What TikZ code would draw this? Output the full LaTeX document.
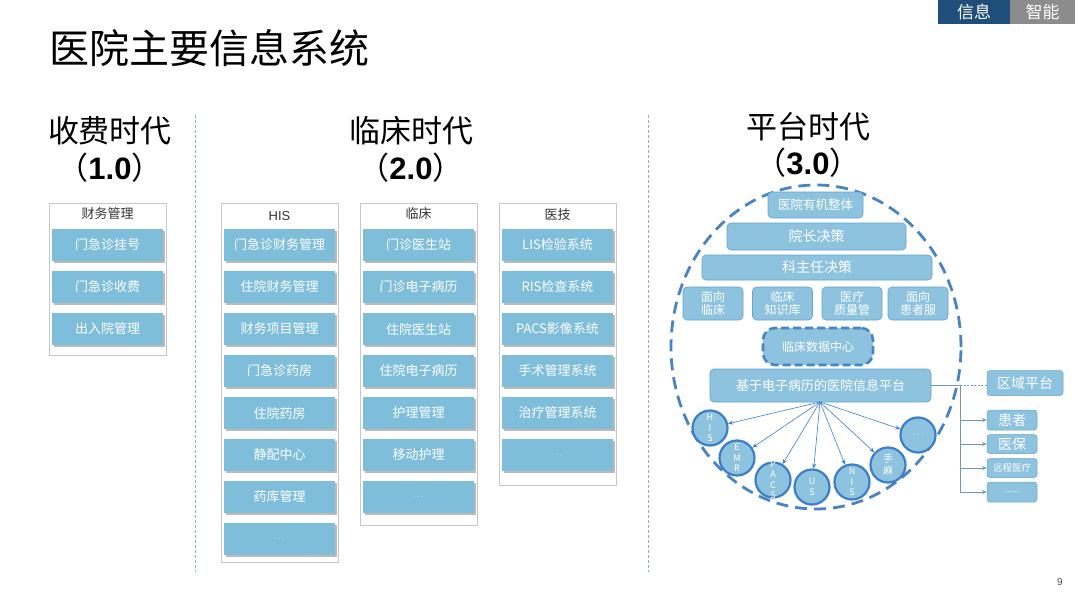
\documentclass[tikz,border=0pt]{standalone}
\usepackage{fontspec}
\setmainfont{Noto Sans CJK SC}
\newfontfamily\lat{Liberation Sans}
\usetikzlibrary{shadows,arrows.meta,calc}
\definecolor{itemblue}{RGB}{127,190,219}
\definecolor{pblue}{RGB}{141,195,222}
\definecolor{pborder}{RGB}{104,162,206}
\definecolor{cborder}{RGB}{62,126,196}
\definecolor{dashblue}{RGB}{72,132,192}
\definecolor{tabblue}{RGB}{30,78,121}
\definecolor{tabgray}{RGB}{140,140,140}
\definecolor{sepcol}{RGB}{150,175,200}
\definecolor{linkcol}{RGB}{110,150,195}
\newcommand{\fs}[1]{\fontsize{#1}{#1}\selectfont}
\newcommand{\dd}{{\fs{9}$\cdots$}}
\tikzset{
  item/.style={fill=itemblue, text=white, minimum width=111pt, minimum height=32pt, inner sep=0pt,
    font=\fs{13}, drop shadow={shadow xshift=1.5pt, shadow yshift=-2pt, opacity=0.45, fill=black!60}},
  colbox/.style={draw=black!22, line width=0.8pt, fill=white},
  colhead/.style={font=\fs{13}, text=black!80, inner sep=0pt},
  era/.style={font=\fs{31}, inner sep=0pt},
  pbox/.style={rounded corners=4pt, fill=pblue, draw=pborder, line width=0.6pt, text=white, inner sep=0pt},
  qbox/.style={pbox, minimum width=60pt, minimum height=33pt, font=\fontsize{12}{13.5}\selectfont, align=center},
  circ/.style={circle, minimum size=35pt, inner sep=0pt, fill=pblue, draw=cborder, line width=2.2pt},
  ctext/.style={font=\fontsize{9}{10.5}\selectfont, text=white, align=center, inner sep=0pt},
  fan/.style={draw=cborder, line width=0.6pt, -{Stealth[length=5pt,width=4pt]}},
  sbox/.style={rounded corners=3pt, fill=pblue, draw=pborder, line width=0.5pt, text=white, inner sep=0pt, minimum width=50pt},
  tab/.style={anchor=north west, text=white, minimum height=24pt, inner sep=0pt, font=\fs{17}},
  sep/.style={draw=sepcol, line width=0.6pt, dash pattern=on 3pt off 2pt}
}
\begin{document}
\begin{tikzpicture}[x=1pt,y=-1pt]
\useasboundingbox[fill=white] (0,0) rectangle (1080,608);

% tabs
\node[tab, fill=tabblue, minimum width=72pt] (tab1) at (938,0) {信息};
\node[tab, fill=tabgray, minimum width=65pt] (tab2) at (1010,0) {智能};

% title
\node[anchor=west, font=\fs{40}, inner sep=0pt] (title) at (49,48) {医院主要信息系统};

% separators
\draw[sep] (195,115) -- (195,572);
\draw[sep] (648,115) -- (648,572);

% era headings
\node[era] (e1) at (110,131) {收费时代};
\node[era] (v1) at (110,168) {（{\lat\bfseries 1.0}）};
\node[era] (e2) at (411,131) {临床时代};
\node[era] (v2) at (411,168) {（{\lat\bfseries 2.0}）};
\node[era] (e3) at (808,127) {平台时代};
\node[era] (v3) at (808,163) {（{\lat\bfseries 3.0}）};

% column 1
\draw[colbox] (49,203) rectangle (166,355);
\node[colhead] (h1) at (107.5,214) {财务管理};
\node[item] (a0) at (107.5,245) {门急诊挂号};
\node[item] (a1) at (107.5,287) {门急诊收费};
\node[item] (a2) at (107.5,329) {出入院管理};

% column HIS
\draw[colbox] (221,203) rectangle (338,562);
\node[colhead, font=\lat\fs{13}] (h2) at (279.5,216) {HIS};
\node[item] (b0) at (279.5,245) {门急诊财务管理};
\node[item] (b1) at (279.5,287) {住院财务管理};
\node[item] (b2) at (279.5,329) {财务项目管理};
\node[item] (b3) at (279.5,371) {门急诊药房};
\node[item] (b4) at (279.5,413) {住院药房};
\node[item] (b5) at (279.5,455) {静配中心};
\node[item] (b6) at (279.5,497) {药库管理};
\node[item] (b7) at (279.5,539) {\dd};

% column clinical
\draw[colbox] (360,203) rectangle (477,525);
\node[colhead] (h3) at (418.5,214) {临床};
\node[item] (c0) at (418.5,245) {门诊医生站};
\node[item] (c1) at (418.5,287) {门诊电子病历};
\node[item] (c2) at (418.5,329) {住院医生站};
\node[item] (c3) at (418.5,371) {住院电子病历};
\node[item] (c4) at (418.5,413) {护理管理};
\node[item] (c5) at (418.5,455) {移动护理};
\node[item] (c6) at (418.5,497) {\dd};

% column medtech
\draw[colbox] (499,203) rectangle (616,485);
\node[colhead] (h4) at (557.5,215) {医技};
\node[item] (d0) at (557.5,245) {LIS检验系统};
\node[item] (d1) at (557.5,287) {RIS检查系统};
\node[item] (d2) at (557.5,329) {PACS影像系统};
\node[item] (d3) at (557.5,371) {手术管理系统};
\node[item] (d4) at (557.5,413) {治疗管理系统};
\node[item] (d5) at (557.5,455) {\dd};

% platform era
\draw[dashblue, line width=2.8pt, dash pattern=on 12pt off 7pt] (816,347) ellipse [x radius=145pt, y radius=162pt];

\node[pbox, minimum width=95pt, minimum height=26pt, font=\fs{12.5}] (p1) at (815.5,205) {医院有机整体};
\node[pbox, minimum width=179pt, minimum height=27pt, font=\fs{14}] (p2) at (816.5,236.5) {院长决策};
\node[pbox, minimum width=230pt, minimum height=25pt, font=\fs{14}] (p3) at (817,267.5) {科主任决策};
\node[qbox] (q1) at (713,303.5) {面向\\临床};
\node[qbox] (q2) at (782.5,303.5) {临床\\知识库};
\node[qbox] (q3) at (852,303.5) {医疗\\质量管};
\node[qbox] (q4) at (918,303.5) {面向\\患者服};

\node[pbox, rounded corners=12pt, draw=dashblue, line width=2.6pt, dash pattern=on 8pt off 4pt,
  minimum width=110pt, minimum height=37pt, font=\fs{12}] (cdc) at (818,346.5) {临床数据中心};
\node[pbox, minimum width=221pt, minimum height=33pt, font=\fs{13}] (plat) at (820.5,385.5) {基于电子病历的医院信息平台};

\coordinate (hub) at (820,402);
\node[circ] (cHIS) at (710,428) {};
\node[circ] (cEMR) at (737,458) {};
\node[circ] (cPACS) at (773,480) {};
\node[circ] (cUS) at (812,487) {};
\node[circ] (cNIS) at (852,482) {};
\node[circ] (cSM) at (888,465) {};
\node[circ] (cDOT) at (918,435) {};
\node[ctext] (tHIS) at (cHIS) {H\\I\\S};
\node[ctext] (tEMR) at (cEMR) {E\\M\\R};
\node[ctext] (tPACS) at (cPACS) {P\\A\\C\\S};
\node[ctext] (tUS) at (cUS) {U\\S};
\node[ctext] (tNIS) at (cNIS) {N\\I\\S};
\node[ctext, font=\fontsize{10}{12}\selectfont] (tSM) at (cSM) {手\\麻};
\node[ctext] (tDOT) at (cDOT) {\dd};
\foreach \c in {cHIS,cEMR,cPACS,cUS,cNIS,cSM,cDOT}
  \draw[fan] (hub) -- (\c);

% right side
\node[sbox, minimum width=76pt, minimum height=25pt, font=\fs{14}] (region) at (1025,383) {区域平台};
\node[sbox, minimum height=20pt, font=\fs{14}] (pat) at (1012,420) {患者};
\node[sbox, minimum height=19pt, font=\fs{14}] (ins) at (1012,444) {医保};
\node[sbox, minimum height=19pt, font=\fs{9.5}] (tele) at (1012,468) {远程医疗};
\node[sbox, minimum height=20pt, font=\fs{9}] (more) at (1012,492) {......};

\coordinate (j) at (960,385.5);
\draw[linkcol, line width=0.7pt] (plat.east) -- (j);
\draw[linkcol, line width=0.7pt, dash pattern=on 2pt off 1.5pt] (j) -- (j -| region.west);
\draw[linkcol, line width=0.7pt] (j) -- (j |- more.west);
\draw[linkcol, line width=0.7pt, -{Stealth[length=5pt,width=4pt,fill=cborder]}] (j |- pat.west) -- (pat.west);
\draw[linkcol, line width=0.7pt, -{Stealth[length=5pt,width=4pt,fill=cborder]}] (j |- ins.west) -- (ins.west);
\draw[linkcol, line width=0.7pt, -{Stealth[length=5pt,width=4pt,fill=cborder]}] (j |- tele.west) -- (tele.west);
\draw[linkcol, line width=0.7pt, -{Stealth[length=5pt,width=4pt,fill=cborder]}] (j |- more.west) -- (more.west);

% page number
\node[font=\lat\fs{10}, text=black!70, inner sep=0pt] (pg) at (1060,582) {9};
\end{tikzpicture}
\end{document}
